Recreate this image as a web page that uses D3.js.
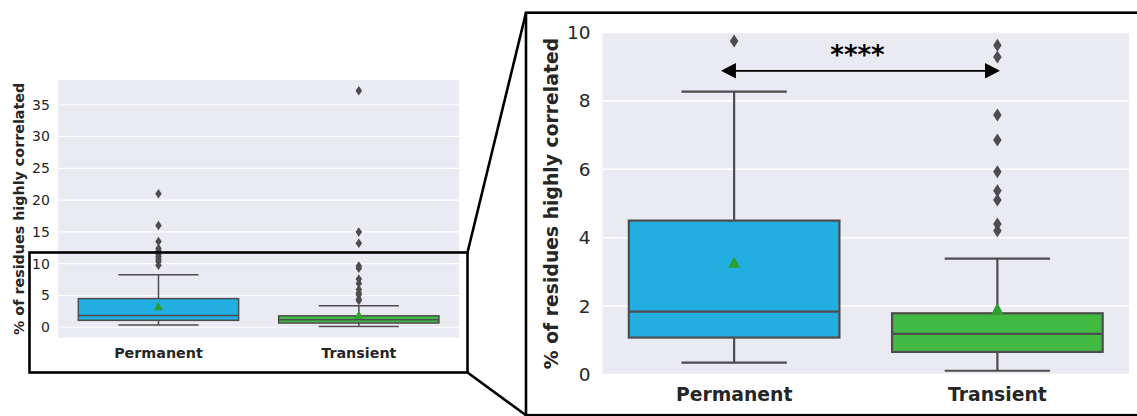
<!DOCTYPE html>
<html>
<head>
<meta charset="utf-8">
<script src="https://cdn.jsdelivr.net/npm/d3@7"></script>
<style>
  body { margin: 0; background: #fff; }
  svg { display: block; font-family: "DejaVu Sans", sans-serif; }
</style>
</head>
<body>
<div id="chart"></div>
<script>
// box statistics
const categories = ["Permanent", "Transient"]
const q1 = [1.08, 0.66]
const medians = [1.84, 1.19]
const q3 = [4.5, 1.79]
const whiskerLow = [0.35, 0.11]
const whiskerHigh = [8.27, 3.39]
const means = [3.27, 1.92]
const outliersPermanent = [9.75, 10.35, 10.7, 11.1, 11.5, 12.0, 12.4, 13.5, 16.0, 21.0]
const outliersTransient = [4.2, 4.4, 5.1, 5.37, 5.93, 6.86, 7.59, 9.28, 9.63, 13.2, 15.0, 37.2]
const outliers = [outliersPermanent, outliersTransient]
const colors = ["#22aee0", "#42b943"]

const yLabel = "% of residues highly correlated"
const ticksOverview = [0, 5, 10, 15, 20, 25, 30, 35]
const ticksZoom = [0, 2, 4, 6, 8, 10]

// significance annotation (zoom panel), x in category units
const sigText = "****"
const sigFrom = -0.05, sigTo = 1.01
const sigY = 8.88, sigTextY = 9.08

const W = 1137, H = 416
const lineColor = "#4d4d4d"
const textColor = "#262626"

var svg = d3.select("#chart").append("svg")
  .attr("width", W).attr("height", H)

var data = categories.map((c, i) => ({
  cat: c, q1: q1[i], med: medians[i], q3: q3[i],
  lo: whiskerLow[i], hi: whiskerHigh[i], mean: means[i],
  out: outliers[i], color: colors[i]
}))

function drawPanel(p) {
  var g = svg.append("g")
  var x = d3.scaleBand().domain(categories).range([p.x0, p.x1]).padding(0)
  var y = d3.scaleLinear().domain(p.domain).range([p.y1, p.y0])
  var bw = x.bandwidth() * 0.8

  g.append("rect")
    .attr("x", p.x0).attr("y", p.y0)
    .attr("width", p.x1 - p.x0).attr("height", p.y1 - p.y0)
    .attr("fill", "#eaeaf2")

  g.append("g").selectAll("line")
    .data(p.ticks)
    .join("line")
      .attr("x1", p.x0).attr("x2", p.x1)
      .attr("y1", d => y(d)).attr("y2", d => y(d))
      .attr("stroke", "#fff").attr("stroke-width", p.grid)

  g.append("g").selectAll("text")
    .data(p.ticks)
    .join("text")
      .attr("x", p.x0 - p.tickGap)
      .attr("y", d => y(d))
      .attr("dy", "0.35em")
      .attr("text-anchor", "end")
      .attr("fill", textColor)
      .style("font-size", p.tickFont + "px")
      .text(d => d)

  g.append("g").selectAll("text")
    .data(categories)
    .join("text")
      .attr("x", d => x(d) + x.bandwidth() / 2)
      .attr("y", p.xLabelY)
      .attr("dy", "0.35em")
      .attr("text-anchor", "middle")
      .attr("fill", textColor)
      .style("font-size", p.labelFont + "px")
      .style("font-weight", "bold")
      .text(d => d)

  g.append("text")
    .attr("transform", "translate(" + p.yLabelX + "," + ((p.y0 + p.y1) / 2) + ") rotate(-90)")
    .attr("dy", "0.35em")
    .attr("text-anchor", "middle")
    .attr("fill", textColor)
    .style("font-size", p.labelFont + "px")
    .style("font-weight", "bold")
    .text(yLabel)

  var clipId = "clip" + p.id
  svg.append("clipPath").attr("id", clipId)
    .append("rect")
    .attr("x", p.x0).attr("y", p.y0 - 0.5)
    .attr("width", p.x1 - p.x0).attr("height", p.y1 - p.y0 + 1)

  var boxes = g.append("g").attr("clip-path", "url(#" + clipId + ")")
    .selectAll("g")
    .data(data)
    .join("g")
      .attr("transform", d => "translate(" + (x(d.cat) + x.bandwidth() / 2) + ",0)")

  // whiskers
  boxes.append("line")
    .attr("x1", 0).attr("x2", 0)
    .attr("y1", d => y(d.q3)).attr("y2", d => y(d.hi))
    .attr("stroke", lineColor).attr("stroke-width", p.lw)
  boxes.append("line")
    .attr("x1", 0).attr("x2", 0)
    .attr("y1", d => y(d.q1)).attr("y2", d => y(d.lo))
    .attr("stroke", lineColor).attr("stroke-width", p.lw)
  boxes.append("line")
    .attr("x1", -bw / 4).attr("x2", bw / 4)
    .attr("y1", d => y(d.hi)).attr("y2", d => y(d.hi))
    .attr("stroke", lineColor).attr("stroke-width", p.lw)
  boxes.append("line")
    .attr("x1", -bw / 4).attr("x2", bw / 4)
    .attr("y1", d => y(d.lo)).attr("y2", d => y(d.lo))
    .attr("stroke", lineColor).attr("stroke-width", p.lw)

  // box and median
  boxes.append("rect")
    .attr("x", -bw / 2).attr("width", bw)
    .attr("y", d => y(d.q3)).attr("height", d => y(d.q1) - y(d.q3))
    .attr("fill", d => d.color)
    .attr("stroke", lineColor).attr("stroke-width", p.lw)
  boxes.append("line")
    .attr("x1", -bw / 2).attr("x2", bw / 2)
    .attr("y1", d => y(d.med)).attr("y2", d => y(d.med))
    .attr("stroke", lineColor).attr("stroke-width", p.lw)

  // outliers as thin diamonds
  var dw = p.dia[0] / 2, dh = p.dia[1] / 2
  boxes.selectAll("path.flier")
    .data(d => d.out)
    .join("path")
      .attr("class", "flier")
      .attr("d", d => "M0," + (y(d) - dh) + "L" + dw + "," + y(d) + "L0," + (y(d) + dh) + "L" + (-dw) + "," + y(d) + "Z")
      .attr("fill", lineColor)

  // mean marker
  var tw = p.tri / 2
  boxes.append("path")
    .attr("d", d => "M0," + (y(d.mean) - tw) + "L" + tw + "," + (y(d.mean) + tw * 0.85) + "L" + (-tw) + "," + (y(d.mean) + tw * 0.85) + "Z")
    .attr("fill", "#2ca02c")

  return {x: x, y: y}
}

var overview = drawPanel({
  id: "A", x0: 58.3, x1: 459, y0: 80, y1: 337.7, domain: [-1.65, 38.9],
  ticks: ticksOverview, tickFont: 14, labelFont: 14.3, tickGap: 8.5,
  xLabelY: 352.5, yLabelX: 18.5, lw: 1.5, grid: 1.1, dia: [6.5, 9.5], tri: 9
})

var zoom = drawPanel({
  id: "B", x0: 602.5, x1: 1129, y0: 32.5, y1: 374.5, domain: [0, 10],
  ticks: ticksZoom, tickFont: 18.5, labelFont: 18.8, tickGap: 12,
  xLabelY: 394.5, yLabelX: 551, lw: 2.2, grid: 1.5, dia: [8.5, 13], tri: 12
})

// significance arrow
var pos = d3.scaleLinear()
  .domain([0, 1])
  .range([zoom.x(categories[0]) + zoom.x.bandwidth() / 2, zoom.x(categories[1]) + zoom.x.bandwidth() / 2])
var ax0 = pos(sigFrom), ax1 = pos(sigTo), ay = zoom.y(sigY)
var head = 15, hh = 7.8
svg.append("line")
  .attr("x1", ax0 + head - 1).attr("x2", ax1 - head + 1)
  .attr("y1", ay).attr("y2", ay)
  .attr("stroke", "#000").attr("stroke-width", 1.7)
svg.append("path")
  .attr("d", "M" + ax0 + "," + ay + "L" + (ax0 + head) + "," + (ay - hh) + "L" + (ax0 + head) + "," + (ay + hh) + "Z")
  .attr("fill", "#000")
svg.append("path")
  .attr("d", "M" + ax1 + "," + ay + "L" + (ax1 - head) + "," + (ay - hh) + "L" + (ax1 - head) + "," + (ay + hh) + "Z")
  .attr("fill", "#000")
svg.append("text")
  .attr("x", (ax0 + ax1) / 2 - 3)
  .attr("y", zoom.y(sigTextY))
  .attr("text-anchor", "middle")
  .style("font-size", "26px")
  .style("font-weight", "bold")
  .attr("fill", "#000")
  .text(sigText)

// zoom frames and connectors
var frame = svg.append("g").attr("fill", "none").attr("stroke", "#000").attr("stroke-width", 2.6)
frame.append("rect").attr("x", 29.5).attr("y", 252.5).attr("width", 438).attr("height", 120)
frame.append("rect").attr("x", 526).attr("y", 12.7).attr("width", 640).attr("height", 402.5)
frame.append("line").attr("x1", 467.5).attr("y1", 252.5).attr("x2", 526).attr("y2", 12.7)
frame.append("line").attr("x1", 467.5).attr("y1", 372.5).attr("x2", 526).attr("y2", 415.2)
</script>
</body>
</html>
